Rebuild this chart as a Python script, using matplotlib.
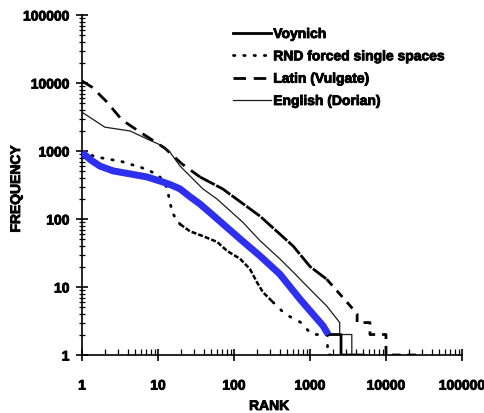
import matplotlib
matplotlib.use('Agg')
import matplotlib.pyplot as plt
import matplotlib.patheffects as pe

# ---------------- data ----------------
latin_rank = [1, 1.35, 2.07, 3.36, 5.8, 12.3, 20.7, 35.7, 71, 220, 600, 1000, 1660, 3370,
              4170, 4170, 6150, 6150, 10000, 10000, 25000]
latin_freq = [10700, 8700, 5430, 2860, 1900, 1100, 645, 415, 277, 110, 40, 20, 13, 5.3,
              4, 3, 3, 2, 2, 1, 1]

eng_rank = [1, 2.0, 4.3, 7.2, 11.6, 14.3, 19.5, 26.3, 39, 60, 130, 220, 400, 600, 1090,
            1660, 2460, 2460, 3550, 3550, 7000]
eng_freq = [3720, 2240, 1970, 1500, 1180, 970, 600, 430, 277, 196, 90, 48, 26, 16.6, 8.4,
            5.25, 3, 2, 2, 1, 1]

rnd_rank = [1, 1.57, 2.2, 3.2, 4.3, 5.8, 7.85, 10.6, 13, 14.4, 15.3, 17.8, 19.5, 26.3, 39,
            60, 81, 120, 162, 200, 240, 325, 470, 740, 1060, 1700, 1700, 2000]
rnd_freq = [960, 815, 760, 710, 640, 580, 510, 415, 295, 178, 126, 95, 84, 66, 56,
            46, 34, 26, 18.4, 11.8, 8.4, 6, 4, 3.06, 2, 2, 1, 1]

voy_rank = [1, 1.72, 2.56, 4.3, 7.2, 11.6, 19.5, 35.7, 65, 120, 220, 400, 740, 1090, 1480,
            1740, 2560, 2560, 5000]
voy_freq = [930, 620, 540, 480, 430, 345, 270, 160, 90, 50, 28.6, 15.5, 6.8, 4, 2.7,
            2, 2, 1, 1]

blue_rank = [1, 1.3, 1.72, 2.56, 4.3, 7.2, 11.6, 15, 19.5, 26, 35.7, 65, 120, 220, 400,
             740, 1090, 1480, 1740]
blue_freq = [950, 740, 600, 510, 460, 415, 350, 315, 277, 215, 166, 93, 51, 28.6, 15.5,
             6.6, 4, 2.7, 2]

labels = ['Voynich', 'RND forced single spaces', 'Latin (Vulgate)', 'English (Dorian)']
decade_ticks = [1, 10, 100, 1000, 10000, 100000]
decade_labels = ['1', '10', '100', '1000', '10000', '100000']

# ---------------- style ----------------
plt.rcParams['font.family'] = ['Liberation Sans', 'DejaVu Sans']
plt.rcParams['font.weight'] = 'bold'
heavy = [pe.withStroke(linewidth=0.6, foreground='black')]

fig = plt.figure(figsize=(4.85, 4.14), dpi=100)
ax = fig.add_axes([82 / 485, 1 - 356 / 414, 380 / 485, 340 / 414])
ax.set_xscale('log')
ax.set_yscale('log')

def split(r, f, a, b):
    return r[a:b], f[a:b]

# Latin (dashed), drawn in three parts so the dash look follows the picture
r, f = split(latin_rank, latin_freq, 0, 8)
ax.plot(r, f, color='black', lw=2.0, dashes=(4.5, 2.8), dash_capstyle='butt',
        label=labels[2], zorder=2)
r, f = split(latin_rank, latin_freq, 7, 13)
ax.plot(r, f, color='black', lw=2.0, dashes=(6, 0.6), zorder=2)
r, f = split(latin_rank, latin_freq, 12, len(latin_rank))
ax.plot(r, f, color='black', lw=2.0, dashes=(3, 2.5), zorder=2)

# English (thin solid)
ax.plot(eng_rank, eng_freq, color='#1a1a1a', lw=0.9, label=labels[3], zorder=3)

# RND forced single spaces (dotted)
r, f = split(rnd_rank, rnd_freq, 0, 13)
ax.plot(r, f, color='black', lw=2.0, dashes=(0.5, 3.2), dash_capstyle='round',
        label=labels[1], zorder=3)
r, f = split(rnd_rank, rnd_freq, 12, 22)
ax.plot(r, f, color='black', lw=1.8, dashes=(2.0, 0.8), zorder=3)
r, f = split(rnd_rank, rnd_freq, 21, len(rnd_rank))
ax.plot(r, f, color='black', lw=2.0, dashes=(0.5, 3.5), dash_capstyle='round', zorder=3)

# Voynich (thick solid)
ax.plot(voy_rank, voy_freq, color='black', lw=2.0, label=labels[0], zorder=4)

# blue highlight over the Voynich curve
ax.plot(blue_rank, blue_freq, color='#2f2ff0', lw=5.0, solid_capstyle='butt',
        solid_joinstyle='round', zorder=5)

ax.set_xlim(1, 1e5)
ax.set_ylim(1, 1e5)

for s in ['top', 'right']:
    ax.spines[s].set_visible(False)
for s in ['left', 'bottom']:
    ax.spines[s].set_linewidth(1.2)

ax.set_xticks(decade_ticks)
ax.set_xticklabels(decade_labels, fontweight='bold', fontsize=10, path_effects=heavy)
ax.set_yticks(decade_ticks)
ax.set_yticklabels(decade_labels, fontweight='bold', fontsize=10, path_effects=heavy)
ax.tick_params(axis='both', which='major', direction='inout', length=8, width=1.2)
ax.tick_params(axis='x', which='major', pad=13)
ax.tick_params(axis='y', which='major', pad=5)
ax.tick_params(axis='y', which='minor', direction='inout', length=4, width=0.9)
ax.tick_params(axis='x', which='minor', direction='in', length=4, width=0.9)

fig.text(269 / 485, 1 - 407 / 414, 'RANK', ha='center', va='center', fontsize=10,
         fontweight='bold', path_effects=heavy)
fig.text(16 / 485, 1 - 190 / 414, 'FREQUENCY', ha='center', va='center', rotation=90,
         fontsize=10, fontweight='bold', path_effects=heavy)

h, l = ax.get_legend_handles_labels()
order = [l.index(x) for x in labels]
leg = ax.legend([h[i] for i in order], [l[i] for i in order], loc='upper left',
                bbox_to_anchor=(233 / 485, 1 - 28 / 414), bbox_transform=fig.transFigure,
                frameon=False, handlelength=2.7, handletextpad=0.2, labelspacing=0.6,
                borderpad=0, borderaxespad=0, prop={'weight': 'bold', 'size': 10})
for t in leg.get_texts():
    t.set_path_effects(heavy)

fig.savefig('out.png', dpi=100)
